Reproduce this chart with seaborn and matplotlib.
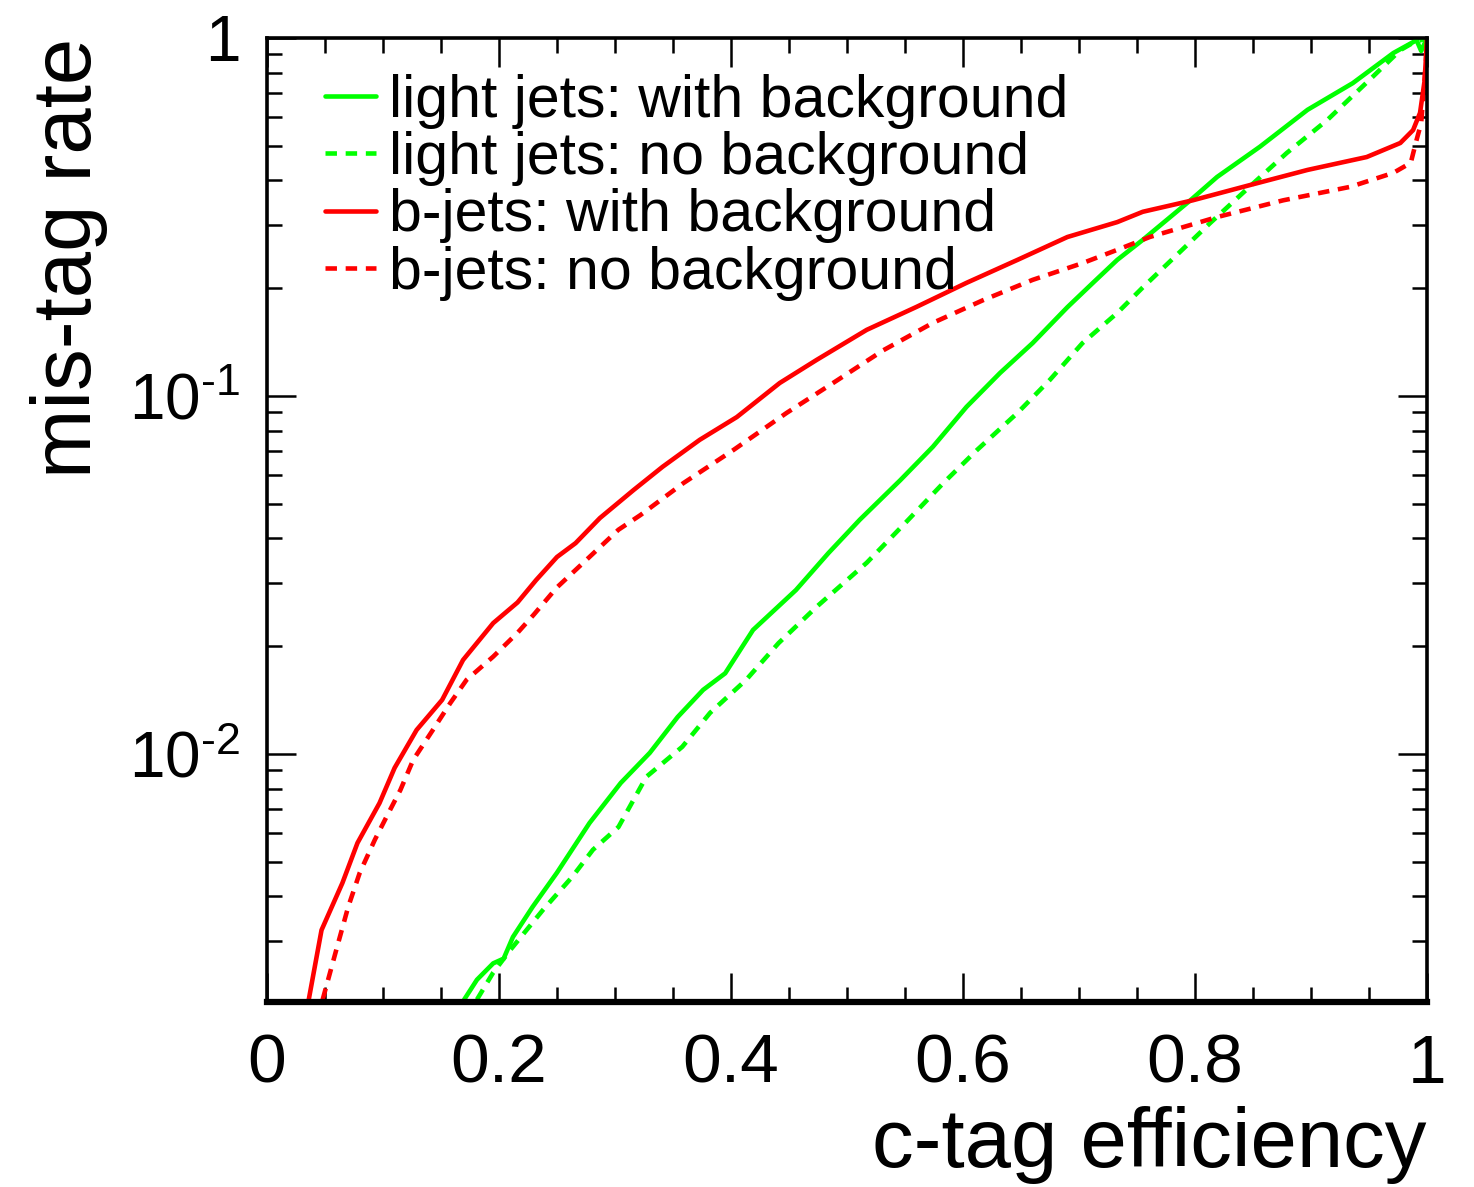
import matplotlib
matplotlib.use('Agg')
import matplotlib.pyplot as plt
import matplotlib.ticker as mticker
import seaborn as sns

# c-tag efficiency vs mis-tag rate
light_bg_eff = [0.170, 0.181, 0.195, 0.204, 0.212, 0.229, 0.250, 0.278, 0.305, 0.330,
                0.354, 0.376, 0.395, 0.419, 0.456, 0.484, 0.511, 0.546, 0.574, 0.603,
                0.632, 0.660, 0.690, 0.712, 0.733, 0.755, 0.796, 0.819, 0.856, 0.897,
                0.936, 0.971, 0.991, 0.995, 1.0]
light_bg_rate = [0.00206, 0.00234, 0.0026, 0.00268, 0.00308, 0.00374, 0.00466, 0.00641, 0.0083, 0.01007,
                 0.01268, 0.0151, 0.0168, 0.0222, 0.0287, 0.0364, 0.0451, 0.0582, 0.0721, 0.0932,
                 0.116, 0.1405, 0.177, 0.207, 0.240, 0.273, 0.352, 0.409, 0.497, 0.63,
                 0.748, 0.908, 0.986, 0.92, 1.0]

light_nobg_eff = [0.181, 0.195, 0.210, 0.238, 0.263, 0.281, 0.303, 0.327, 0.358, 0.382,
                  0.413, 0.441, 0.474, 0.517, 0.550, 0.583, 0.612, 0.647, 0.675, 0.703,
                  0.733, 0.755, 0.813, 0.847, 0.879, 0.914, 0.953, 0.977, 0.988, 1.0]
light_nobg_rate = [0.00206, 0.00245, 0.00284, 0.00367, 0.00453, 0.0054, 0.00625, 0.00863, 0.01047, 0.01303,
                   0.0161, 0.0204, 0.0258, 0.0342, 0.0441, 0.0571, 0.0706, 0.0897, 0.111, 0.1405,
                   0.1706, 0.201, 0.304, 0.384, 0.477, 0.59, 0.778, 0.925, 0.97, 1.0]

b_bg_eff = [0.036, 0.047, 0.065, 0.078, 0.097, 0.110, 0.129, 0.151, 0.169, 0.195,
            0.216, 0.232, 0.250, 0.266, 0.287, 0.316, 0.341, 0.373, 0.405, 0.442,
            0.474, 0.517, 0.560, 0.603, 0.647, 0.690, 0.733, 0.755, 0.798, 0.847,
            0.897, 0.948, 0.977, 0.988, 0.994, 0.998, 1.0]
b_bg_rate = [0.00206, 0.00322, 0.00436, 0.00564, 0.00729, 0.00914, 0.01167, 0.01416, 0.0183, 0.0232,
             0.0265, 0.0306, 0.0355, 0.0388, 0.0456, 0.0546, 0.0634, 0.0754, 0.0873, 0.1087,
             0.1262, 0.153, 0.1774, 0.207, 0.240, 0.278, 0.306, 0.327, 0.352, 0.388,
             0.428, 0.465, 0.509, 0.553, 0.618, 0.763, 1.0]

b_nobg_eff = [0.048, 0.059, 0.070, 0.080, 0.093, 0.103, 0.115, 0.126, 0.143, 0.158,
              0.172, 0.195, 0.216, 0.230, 0.250, 0.278, 0.303, 0.322, 0.359, 0.402,
              0.448, 0.488, 0.531, 0.574, 0.617, 0.660, 0.703, 0.733, 0.761, 0.819,
              0.876, 0.934, 0.971, 0.986, 0.991, 0.995, 0.999, 1.0]
b_nobg_rate = [0.00206, 0.00278, 0.00374, 0.00466, 0.00576, 0.00667, 0.00793, 0.00962, 0.01167, 0.01387,
               0.0161, 0.0187, 0.0218, 0.0245, 0.0292, 0.0355, 0.0423, 0.0465, 0.0571, 0.0706,
               0.0897, 0.1087, 0.134, 0.160, 0.185, 0.211, 0.235, 0.256, 0.278, 0.316,
               0.352, 0.384, 0.420, 0.448, 0.519, 0.579, 0.85, 1.0]

labels = ['light jets: with background', 'light jets: no background',
          'b-jets: with background', 'b-jets: no background']

sns.set_theme(style='ticks')
plt.rcParams['font.family'] = ['Liberation Sans', 'DejaVu Sans']
plt.rcParams['mathtext.fontset'] = 'custom'
plt.rcParams['mathtext.rm'] = 'Liberation Sans'
plt.rcParams['mathtext.it'] = 'Liberation Sans:italic'
plt.rcParams['mathtext.bf'] = 'Liberation Sans:bold'
for key in ['text.color', 'axes.labelcolor', 'xtick.color', 'ytick.color', 'axes.edgecolor']:
    plt.rcParams[key] = 'black'

fig = plt.figure(figsize=(14.74, 11.87), dpi=100)
fig.patch.set_facecolor('white')
ax = fig.add_axes([267 / 1474, 1 - 1002 / 1187, 1160 / 1474, 964 / 1187])
ax.set_facecolor('white')

curves = [
    (light_bg_eff, light_bg_rate, '#00ff00', '-'),
    (light_nobg_eff, light_nobg_rate, '#00ff00', (0, (2.5, 1.9))),
    (b_bg_eff, b_bg_rate, '#ff0000', '-'),
    (b_nobg_eff, b_nobg_rate, '#ff0000', (0, (2.5, 1.9))),
]
for (xs, ys, col, ls), lab in zip(curves, labels):
    sns.lineplot(x=xs, y=ys, ax=ax, color=col, linestyle=ls, linewidth=3.3,
                 estimator=None, sort=False, label=lab)

ax.set_yscale('log')
ax.set_xlim(0, 1)
ax.set_ylim(10 ** -2.693, 1.0)

ax.xaxis.set_minor_locator(mticker.MultipleLocator(0.05))
ax.set_xticks([0, 0.2, 0.4, 0.6, 0.8, 1.0])
ax.set_xticklabels(['0', '0.2', '0.4', '0.6', '0.8', '1'])

ax.yaxis.set_minor_locator(mticker.LogLocator(base=10, subs=[2, 3, 4, 5, 6, 7, 8, 9]))
ax.yaxis.set_minor_formatter(mticker.NullFormatter())
ax.set_yticks([0.01, 0.1, 1.0])
ax.set_yticklabels([r'$\mathregular{10^{\text{-}2}}$', r'$\mathregular{10^{\text{-}1}}$', '1'])

ax.tick_params(which='both', direction='in', top=True, right=True, width=1.8, color='black')
ax.tick_params(which='major', length=21)
ax.tick_params(which='minor', length=10.5)
ax.tick_params(axis='x', labelsize=50, pad=22)
ax.tick_params(axis='y', labelsize=46, pad=19)

for side in ['left', 'right', 'top']:
    ax.spines[side].set_linewidth(2.6)
ax.spines['bottom'].set_linewidth(4.5)
for sp in ax.spines.values():
    sp.set_color('black')
    sp.set_visible(True)

ax.set_xlabel('c-tag efficiency', fontsize=60, loc='right')
ax.set_ylabel('mis-tag rate', fontsize=60, loc='top')
ax.xaxis.set_label_coords(1.0, -0.108)
ax.yaxis.set_label_coords(-0.137, 1.0)

ax.legend(loc='upper left', bbox_to_anchor=(0.05, 0.963), frameon=False, fontsize=42.5,
          handlelength=0.86, handletextpad=0.22, labelspacing=0.04,
          borderpad=0, borderaxespad=0)

fig.savefig('out.png', dpi=100, facecolor='white')
